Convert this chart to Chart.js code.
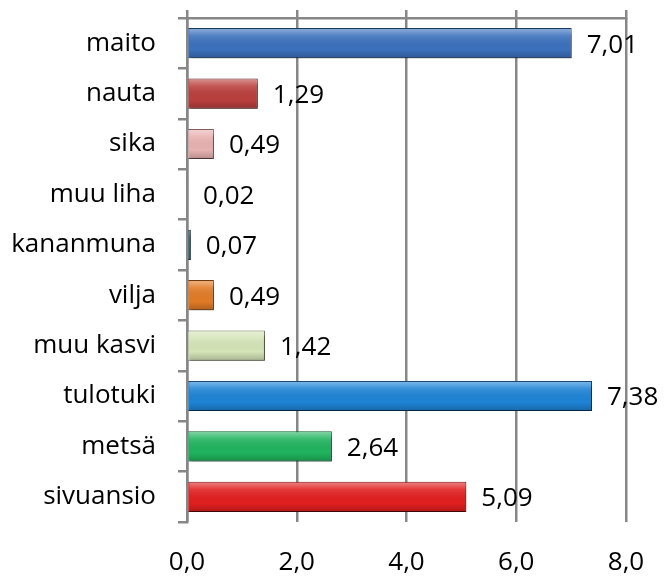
<!DOCTYPE html>
<html>
<head>
<meta charset="utf-8">
<script src="https://cdn.jsdelivr.net/npm/chart.js@4/dist/chart.umd.min.js"></script>
<style>
  html, body { margin: 0; padding: 0; background: #fff; }
  #wrap { width: 665px; height: 577px; }
</style>
</head>
<body>
<div id="wrap"><canvas id="incomeChart"></canvas></div>
<script>
const categories = ['maito', 'nauta', 'sika', 'muu liha', 'kananmuna', 'vilja', 'muu kasvi', 'tulotuki', 'metsä', 'sivuansio'];
const values = [7.01, 1.29, 0.49, 0.02, 0.07, 0.49, 1.42, 7.38, 2.64, 5.09];
const barColors = ['#3c71bd', '#bb403d', '#e8b2b1', '#8a9aa6', '#1d4f5c', '#e27b26', '#d5e5b8', '#1e84d6', '#20b45e', '#e21f1f'];
const borderColors = ['#1d3a63', '#5e1c1a', '#7a5352', '#3c4a55', '#0c2a33', '#6e3a0d', '#5d6b48', '#0d3f6b', '#0c5a2c', '#6b0c0c'];
const tickValues = [0, 2, 4, 6, 8];

const font = { family: '"Open Sans", sans-serif', size: 26 };
const gridColor = '#878787';

// shadow + bevel look of the bars, and the value labels
const barLook = {
  id: 'barLook',
  beforeDatasetsDraw(chart) {
    const ctx = chart.ctx;
    ctx.save();
    ctx.shadowColor = 'rgba(0,0,0,0.4)';
    ctx.shadowOffsetX = 2;
    ctx.shadowOffsetY = 5;
    ctx.shadowBlur = 3;
  },
  afterDatasetsDraw(chart) {
    const ctx = chart.ctx;
    ctx.restore();
    const meta = chart.getDatasetMeta(0);
    meta.data.forEach(function(bar, i) {
      const h = bar.height;
      const top = bar.y - h / 2;
      const left = Math.min(bar.base, bar.x);
      const w = Math.abs(bar.x - bar.base);
      const g = ctx.createLinearGradient(0, top, 0, top + h);
      g.addColorStop(0, 'rgba(255,255,255,0.45)');
      g.addColorStop(0.25, 'rgba(255,255,255,0.12)');
      g.addColorStop(0.7, 'rgba(0,0,0,0)');
      g.addColorStop(1, 'rgba(0,0,0,0.22)');
      ctx.fillStyle = g;
      ctx.fillRect(left + 1, top + 1, Math.max(w - 2, 0), h - 2);

      ctx.save();
      ctx.font = font.size + 'px ' + font.family;
      ctx.fillStyle = '#000';
      ctx.textAlign = 'left';
      ctx.textBaseline = 'middle';
      ctx.fillText(values[i].toFixed(2).replace('.', ','), bar.x + 15, bar.y + 2);
      ctx.restore();
    });
  }
};

new Chart(document.getElementById('incomeChart'), {
  type: 'bar',
  data: {
    labels: categories,
    datasets: [{
      data: values,
      backgroundColor: barColors,
      borderColor: borderColors,
      borderWidth: 1,
      categoryPercentage: 1,
      barPercentage: 0.6
    }]
  },
  options: {
    indexAxis: 'y',
    responsive: true,
    maintainAspectRatio: false,
    animation: false,
    layout: { padding: { top: 10, right: 39, bottom: 0, left: 0 } },
    plugins: {
      legend: { display: false },
      tooltip: { enabled: false }
    },
    scales: {
      x: {
        position: 'bottom',
        min: 0,
        max: 8,
        afterBuildTicks(scale) { scale.ticks = tickValues.map(v => ({ value: v })); },
        afterFit(scale) { scale.height = 55; scale.paddingLeft = 0; scale.paddingRight = 0; },
        border: { display: false },
        grid: { color: gridColor, lineWidth: 2.5, drawTicks: false },
        ticks: {
          color: '#000',
          font: font,
          padding: 25,
          maxRotation: 0,
          callback: v => Number(v).toFixed(1).replace('.', ',')
        }
      },
      x2: {
        position: 'top',
        min: 0,
        max: 8,
        afterBuildTicks(scale) { scale.ticks = tickValues.map(v => ({ value: v })); },
        afterFit(scale) { scale.height = 8; scale.paddingLeft = 0; scale.paddingRight = 0; },
        border: { display: true, color: gridColor, width: 2.5 },
        grid: { color: gridColor, lineWidth: 2.5, drawOnChartArea: false, drawTicks: true, tickLength: 8 },
        ticks: { display: false }
      },
      y: {
        afterFit(scale) { scale.width = 187; scale.paddingTop = 0; scale.paddingBottom = 0; },
        border: { display: true, color: gridColor, width: 2.5 },
        grid: { offset: true, color: gridColor, lineWidth: 2.5, drawOnChartArea: false, drawTicks: true, tickLength: 9 },
        ticks: { color: '#000', font: font, padding: 22 }
      }
    }
  },
  plugins: [barLook]
});
</script>
</body>
</html>
